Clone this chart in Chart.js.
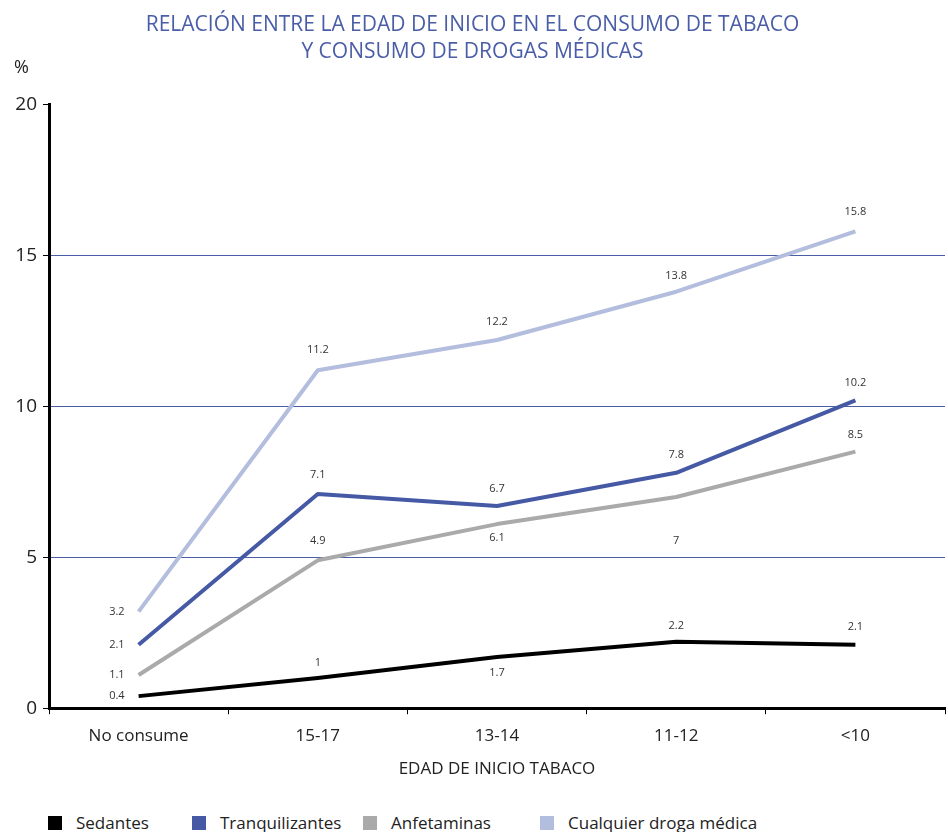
<!DOCTYPE html>
<html lang="es">
<head>
<meta charset="utf-8">
<script src="https://cdn.jsdelivr.net/npm/chart.js@4.4.1/dist/chart.umd.min.js"></script>
<style>
  html, body { margin: 0; padding: 0; background: #fff; overflow: hidden; }
  #wrap { position: relative; width: 948px; height: 832px; }
  #grafico { position: absolute; left: 0; top: 0; }
  #leyenda { position: absolute; left: 0; top: 811px; font-family: "Open Sans", sans-serif; font-size: 17px; color: #222; }
  #leyenda span.item { position: absolute; white-space: nowrap; }
  #leyenda span.caja { display: inline-block; width: 14px; height: 14px; vertical-align: -1px; margin-right: 14px; }
</style>
</head>
<body>
<div id="wrap">
  <canvas id="grafico" width="948" height="800"></canvas>
  <div id="leyenda"></div>
</div>
<script>
// datos: porcentaje segun edad de inicio en el tabaco
const categorias = ['No consume', '15-17', '13-14', '11-12', '<10'];
const sedantes = [0.4, 1, 1.7, 2.2, 2.1];
const tranquilizantes = [2.1, 7.1, 6.7, 7.8, 10.2];
const anfetaminas = [1.1, 4.9, 6.1, 7, 8.5];
const cualquierDroga = [3.2, 11.2, 12.2, 13.8, 15.8];
const marcasY = [0, 5, 10, 15, 20];

const azul = '#4a5ea8';

// donde va cada etiqueta respecto a su punto (desplazamiento vertical, 'L' = a la izquierda)
const posEtiquetas = [
    ['L', -15, 16, -16, -18],
    ['L', -19, -17, -18, -18],
    ['L', -19, 14, 44, -17],
    ['L', -20, -18, -16, -19]
];

const series = [
    { label: 'Sedantes', data: sedantes, color: '#000000' },
    { label: 'Tranquilizantes', data: tranquilizantes, color: '#4659a5' },
    { label: 'Anfetaminas', data: anfetaminas, color: '#aaaaaa' },
    { label: 'Cualquier droga médica', data: cualquierDroga, color: '#b3bddd' }
];

// etiquetas de valor junto a cada punto
const etiquetasValor = {
    id: 'etiquetasValor',
    afterDatasetsDraw(chart) {
        const ctx = chart.ctx;
        ctx.save();
        ctx.font = '11px "Open Sans", sans-serif';
        ctx.fillStyle = '#333';
        ctx.textBaseline = 'middle';
        chart.data.datasets.forEach((ds, i) => {
            const meta = chart.getDatasetMeta(i);
            meta.data.forEach((pt, j) => {
                const pos = posEtiquetas[i][j];
                const txt = String(ds.data[j]);
                if (pos === 'L') {
                    ctx.textAlign = 'right';
                    ctx.fillText(txt, pt.x - 14, pt.y);
                } else {
                    ctx.textAlign = 'center';
                    ctx.fillText(txt, pt.x, pt.y + pos);
                }
            });
        });
        // simbolo de porcentaje sobre el eje
        ctx.font = '18px "Open Sans", sans-serif';
        ctx.fillStyle = '#222';
        ctx.textAlign = 'left';
        ctx.fillText('%', 14, 68);
        ctx.restore();
    }
};

const ctx = document.getElementById('grafico').getContext('2d');
const grafico = new Chart(ctx, {
    type: 'line',
    data: {
        labels: categorias,
        datasets: series.map(s => ({
            label: s.label,
            data: s.data,
            borderColor: s.color,
            backgroundColor: s.color,
            borderWidth: 4,
            pointRadius: 0,
            tension: 0,
            borderJoinStyle: 'round',
            borderCapStyle: 'butt'
        }))
    },
    options: {
        responsive: false,
        animation: false,
        layout: { padding: { left: 0, right: 3, top: 0, bottom: 21 } },
        plugins: {
            legend: { display: false },
            tooltip: { enabled: false },
            title: {
                display: true,
                text: ['RELACIÓN ENTRE LA EDAD DE INICIO EN EL CONSUMO DE TABACO', 'Y CONSUMO DE DROGAS MÉDICAS'],
                color: azul,
                font: { family: '"Open Sans", sans-serif', size: 21, weight: 'normal', lineHeight: 1.3 },
                padding: { top: 11, bottom: 39 }
            }
        },
        scales: {
            x: {
                offset: true,
                border: { display: true, color: '#000', width: 3 },
                grid: { offset: true, drawOnChartArea: false, drawTicks: true, tickLength: 6, tickColor: '#000', tickWidth: 1 },
                ticks: { color: '#222', padding: 12, font: { family: '"Open Sans", sans-serif', size: 17 } },
                title: {
                    display: true,
                    text: 'EDAD DE INICIO TABACO',
                    color: '#222',
                    font: { family: '"Open Sans", sans-serif', size: 17 },
                    padding: { top: 0, bottom: 0 }
                }
            },
            y: {
                min: 0,
                max: 20,
                afterFit(scale) { scale.width = 49; },
                afterBuildTicks(scale) { scale.ticks = marcasY.map(v => ({ value: v })); },
                border: { display: true, color: '#000', width: 3 },
                grid: {
                    drawTicks: true,
                    tickLength: 6,
                    tickColor: '#000',
                    lineWidth: 1,
                    color: c => (c.tick && c.tick.value > 0 && c.tick.value < 20) ? azul : 'rgba(0,0,0,0)'
                },
                ticks: { color: '#222', padding: 6, font: { family: '"Open Sans", sans-serif', size: 19 } }
            }
        }
    },
    plugins: [etiquetasValor]
});

// leyenda en html con las posiciones fijas de cada entrada
const posLeyenda = [48, 192, 363, 540];
const leyenda = document.getElementById('leyenda');
series.forEach((s, i) => {
    const item = document.createElement('span');
    item.className = 'item';
    item.style.left = posLeyenda[i] + 'px';
    item.innerHTML = '<span class="caja" style="background:' + s.color + '"></span>' + s.label;
    leyenda.appendChild(item);
});
</script>
</body>
</html>
